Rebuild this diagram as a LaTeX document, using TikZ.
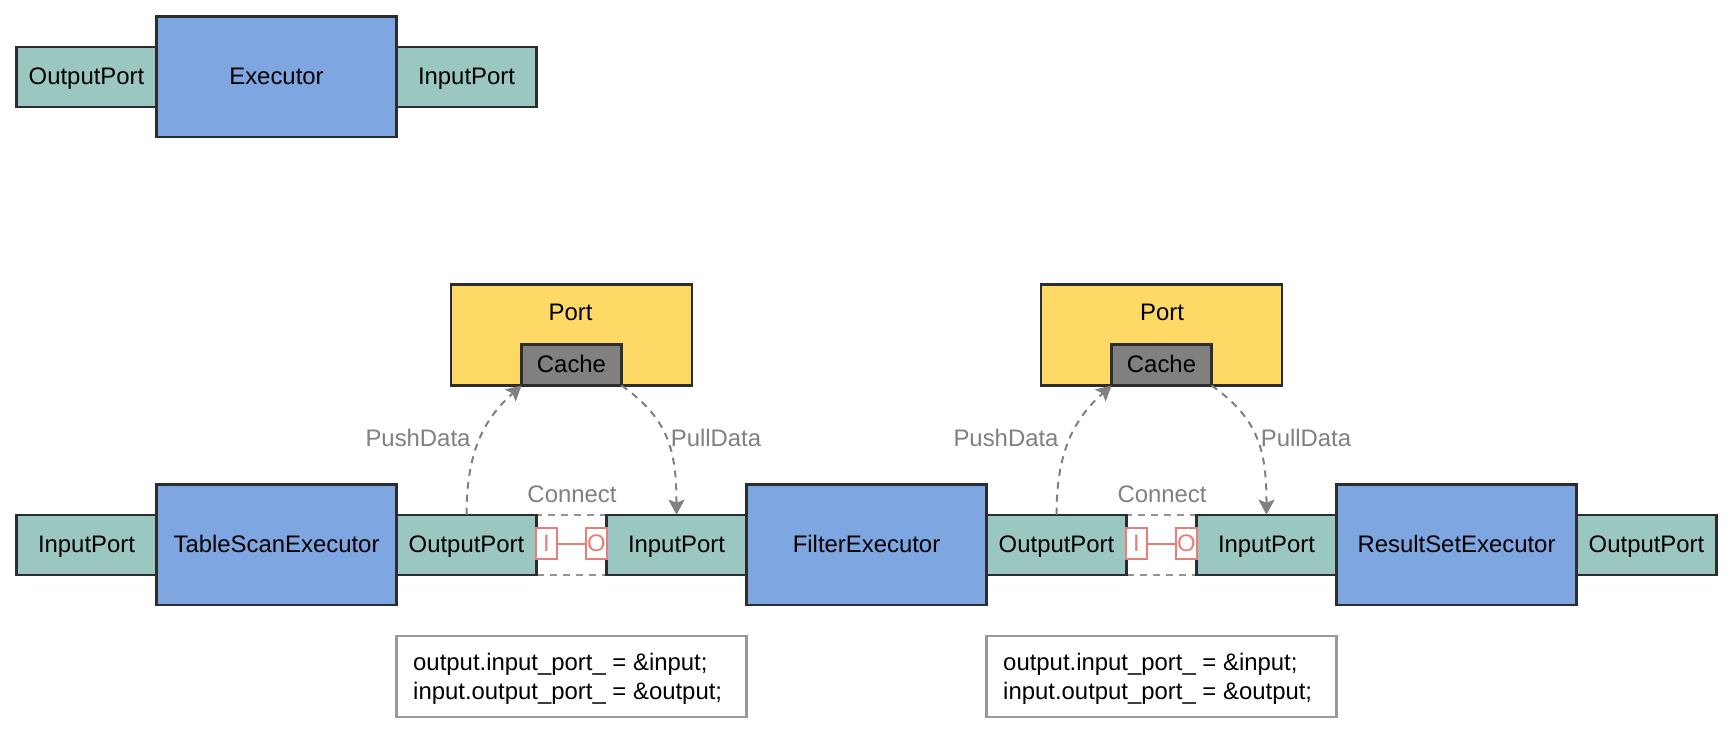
\documentclass[tikz,border=0pt]{standalone}
\usepackage{fontspec}
\setmainfont{Liberation Sans}
\usetikzlibrary{arrows.meta}
\definecolor{bluefill}{HTML}{7EA6E0}
\definecolor{tealfill}{HTML}{9AC7BF}
\definecolor{yellowfill}{HTML}{FFD966}
\definecolor{cachefill}{HTML}{808080}
\definecolor{edgedark}{HTML}{2B2D30}
\definecolor{redline}{HTML}{E57F7B}
\definecolor{codeedge}{HTML}{999999}
\tikzset{
  box/.style={draw=edgedark,line width=2.1pt,inner sep=0pt,outer sep=0pt,text height=17pt,text depth=2pt,font=\fontsize{23.9}{28.7}\selectfont,text=black},
  portbox/.style={box,fill=tealfill,minimum width=140pt,minimum height=60pt},
  execbox/.style={box,fill=bluefill,minimum width=240pt,minimum height=120.5pt},
  holder/.style={box,fill=yellowfill,minimum width=241pt,minimum height=101pt},
  cachebox/.style={box,fill=cachefill,minimum width=100pt,minimum height=41pt},
  slot/.style={draw=redline,line width=2.1pt,fill=white,inner sep=0pt,outer sep=0pt,minimum width=21pt,minimum height=31pt,text=redline,font=\fontsize{23.9}{28.7}\selectfont},
  link/.style={draw=cachefill,line width=2pt,dash pattern=on 7pt off 6pt,-{Stealth[length=15pt,width=16pt,inset=3pt]}},
  greylabel/.style={inner sep=0pt,text=cachefill,font=\fontsize{23.9}{28.7}\selectfont},
  plainlabel/.style={inner sep=0pt,text=black,font=\fontsize{23.9}{28.7}\selectfont},
  codebox/.style={draw=codeedge,line width=2.1pt,fill=white,inner sep=0pt,outer sep=0pt,minimum width=350pt,minimum height=81pt},
  gapbox/.style={draw=cachefill!85,line width=2pt,dash pattern=on 7pt off 6pt,fill=white,inner sep=0pt,outer sep=0pt,minimum width=70pt,minimum height=60pt}
}
\begin{document}
\begin{tikzpicture}[x=1pt,y=-1pt]
\useasboundingbox (0,0) rectangle (1734,734);
% top row
\node[portbox] (topout) at (86.5,76.7) {OutputPort};
\node[portbox] (topin) at (466.5,76.7) {InputPort};
\node[execbox] (topexec) at (276.5,76.7) {Executor};
% main row
\node[portbox] (inA) at (86.5,544.7) {InputPort};
\foreach \i/\d/\pd/\td in {1/0/0/0,2/590/-2/1.5}{
  \node[gapbox] (gap\i) at ({571.5+\d},544.7) {};
  \node[portbox] (out\i) at ({466.5+\d},544.7) {OutputPort};
  \node[portbox] (in\i) at ({676.5+\d},544.7) {InputPort};
  \node[slot] (i\i) at ({546.5+\d},543.7) {I};
  \node[slot] (o\i) at ({596.5+\d},543.7) {O};
  \draw[redline,line width=2pt] (i\i) -- (o\i);
  \node[greylabel] (connect\i) at ({572+\d},494) {Connect};
  \node[holder] (port\i) at ({571.5+\d},335) {};
  \node[plainlabel] (porttext\i) at ({570.5+\d+\td},312) {Port};
  \node[cachebox] (cache\i) at ({571.5+\d},365) {Cache};
  \draw[link] (out\i.north) .. controls +(0,-64) and +(-37,33) .. (cache\i.south west);
  \draw[link] (cache\i.south east) .. controls +(47,33) and +(0,-64) .. (in\i.north);
  \node[greylabel] (push\i) at ({418+\d+\pd},438) {PushData};
  \node[greylabel] (pull\i) at ({716+\d},438) {PullData};
  \node[codebox] (code\i) at ({571.5+\d},676.7) {};
  \node[plainlabel,anchor=west,align=left] (codetext\i) at ({413+\d},678.5) {output.input\_port\_ = \&input;\\input.output\_port\_ = \&output;};
}
\node[execbox] (scan) at (276.5,544.7) {TableScanExecutor};
\node[execbox] (filter) at (866.5,544.7) {FilterExecutor};
\node[portbox] (outZ) at (1646.5,544.7) {OutputPort};
\node[execbox] (result) at (1456.5,544.7) {ResultSetExecutor};
\end{tikzpicture}
\end{document}
